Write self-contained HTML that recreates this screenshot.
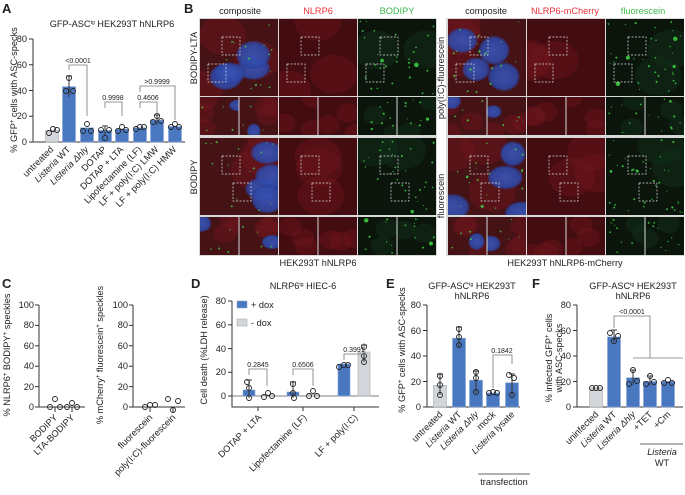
<!DOCTYPE html>
<html><head><meta charset="utf-8"><style>
html,body{margin:0;padding:0;background:#fff}
svg{display:block}
text{font-family:"Liberation Sans",Arial,sans-serif;fill:#222}
.t{font-size:9.2px}
.s{font-size:7px}
.L{font-size:13px;font-weight:bold}
.ax{stroke:#333;stroke-width:1;fill:none}
.br{stroke:#777;stroke-width:0.8;fill:none}
.bb{fill:#4a78c0;stroke:#8aa6d6;stroke-width:0.6}
.bg{fill:#d3d6da;stroke:#aaa;stroke-width:0.6}
.pt{fill:none;stroke:#222;stroke-width:0.9}
.db{fill:none;stroke:#ddd;stroke-width:0.7;stroke-dasharray:2,1.5}
</style></head><body>
<svg id="s" width="685" height="495" viewBox="0 0 685 495" xmlns="http://www.w3.org/2000/svg">
<defs>
<radialGradient id="nuc"><stop offset="0" stop-color="#3a55b8"/><stop offset="0.8" stop-color="#2f48a5"/><stop offset="1" stop-color="#2a3a90" stop-opacity="0.6"/></radialGradient>
</defs>
<g id="micro"></g>

<!-- Panel A -->
<text class="L" x="2" y="13">A</text>
<text class="t" x="112" y="27" text-anchor="middle">GFP-ASC<tspan font-size="5" dy="-3">tg</tspan><tspan dy="3"> HEK293T hNLRP6</tspan></text>
<text class="t" transform="translate(17,90) rotate(-90)" text-anchor="middle">% GFP<tspan font-size="6" dy="-3">+</tspan><tspan dy="3"> cells with ASC-specks</tspan></text>
<path class="ax" d="M33,39 V142 H185 M29,39 H33 M29,64.75 H33 M29,90.5 H33 M29,116.25 H33 M29,142 H33"/>
<g class="t" text-anchor="end"><text x="27" y="42">80</text><text x="27" y="68">60</text><text x="27" y="94">40</text><text x="27" y="119">20</text><text x="27" y="145">0</text></g>
<rect class="bg" x="45.5" y="130.4" width="13" height="11.6"/>
<rect class="bb" x="62.5" y="86.6" width="13" height="55.4"/>
<rect class="bb" x="80.5" y="127.8" width="13" height="14.2"/>
<rect class="bb" x="98.5" y="130.4" width="13" height="11.6"/>
<rect class="bb" x="115.5" y="129.1" width="13" height="12.9"/>
<rect class="bb" x="133.5" y="127.8" width="13" height="14.2"/>
<rect class="bb" x="150.5" y="120.1" width="13" height="21.9"/>
<rect class="bb" x="168.5" y="126.5" width="13" height="15.5"/>
<g class="pt">
<circle cx="49" cy="133" r="2.5"/><circle cx="53" cy="129" r="2.5"/><circle cx="57" cy="130" r="2.5"/>
<circle cx="66" cy="91" r="2.5"/><circle cx="69" cy="78" r="2.5"/><circle cx="73" cy="91" r="2.5"/>
<circle cx="83" cy="131" r="2.5"/><circle cx="87" cy="124" r="2.5"/><circle cx="91" cy="131" r="2.5"/>
<circle cx="101" cy="130" r="2.5"/><circle cx="105" cy="138" r="2.5"/><circle cx="109" cy="130" r="2.5"/>
<circle cx="118" cy="131" r="2.5"/><circle cx="122" cy="127" r="2.5"/><circle cx="126" cy="130" r="2.5"/>
<circle cx="136" cy="129" r="2.5"/><circle cx="140" cy="127" r="2.5"/><circle cx="144" cy="127" r="2.5"/>
<circle cx="153" cy="122" r="2.5"/><circle cx="157" cy="116" r="2.5"/><circle cx="161" cy="121" r="2.5"/>
<circle cx="171" cy="127" r="2.5"/><circle cx="175" cy="124" r="2.5"/><circle cx="179" cy="127" r="2.5"/>
</g>
<path class="ax" stroke-width="0.7" d="M69,76 V97 M66,76 H72 M105,126 V136 M102,126 H108 M157,115 V125 M154,115 H160"/>
<path class="br" d="M69,70 V65 H87 V116 M105,108 V102 H122 V116 M140,108 V102 H157 V114 M140,92 V86 H175 V120"/>
<g class="s" text-anchor="middle"><text x="78" y="63">&lt;0.0001</text><text x="113" y="100">0.9998</text><text x="148" y="100">0.4606</text><text x="157" y="84">&gt;0.9999</text></g>
<g class="t" text-anchor="end">
<text transform="translate(54,150) rotate(-45)">untreated</text>
<text transform="translate(71,150) rotate(-45)"><tspan font-style="italic">Listeria</tspan> WT</text>
<text transform="translate(89,150) rotate(-45)"><tspan font-style="italic">Listeria Δhly</tspan></text>
<text transform="translate(107,150) rotate(-45)">DOTAP</text>
<text transform="translate(124,150) rotate(-45)">DOTAP + LTA</text>
<text transform="translate(142,150) rotate(-45)">Lipofectamine (LF)</text>
<text transform="translate(159,150) rotate(-45)">LF + poly(I:C) LMW</text>
<text transform="translate(177,150) rotate(-45)">LF + poly(I:C) HMW</text>
</g>

<!-- Panel B labels -->
<text class="L" x="184" y="13">B</text>
<g class="t" text-anchor="middle">
<text x="240" y="14">composite</text><text x="318" y="14" style="fill:#e8303a">NLRP6</text><text x="397" y="14" style="fill:#3cba4a">BODIPY</text>
<text x="486" y="14">composite</text><text x="565" y="14" style="fill:#e8303a">NLRP6-mCherry</text><text x="643" y="14" style="fill:#3cba4a">fluorescein</text>
<text x="318" y="266">HEK293T hNLRP6</text><text x="565" y="266">HEK293T hNLRP6-mCherry</text>
<text transform="translate(197,58) rotate(-90)">BODIPY-LTA</text>
<text transform="translate(197,177) rotate(-90)">BODIPY</text>
<text transform="translate(444,78) rotate(-90)">poly(I:C)-fluorescein</text>
<text transform="translate(444,196) rotate(-90)">fluorescein</text>
</g>

<!-- Panel C -->
<text class="L" x="2" y="288">C</text>
<text class="t" transform="translate(10,355) rotate(-90)" text-anchor="middle">% NLRP6<tspan font-size="6" dy="-3">+</tspan><tspan dy="3"> BODIPY</tspan><tspan font-size="6" dy="-3">+</tspan><tspan dy="3"> speckles</tspan></text>
<path class="ax" d="M39,305 V407 H85 M35,305 H39 M35,325.4 H39 M35,345.8 H39 M35,366.2 H39 M35,386.6 H39 M35,407 H39"/>
<g class="t" text-anchor="end"><text x="34" y="308">100</text><text x="34" y="328">80</text><text x="34" y="349">60</text><text x="34" y="369">40</text><text x="34" y="390">20</text><text x="34" y="410">0</text></g>
<g class="pt"><circle cx="50" cy="407" r="2.5"/><circle cx="55" cy="399" r="2.5"/><circle cx="60" cy="407" r="2.5"/><circle cx="67" cy="407" r="2.5"/><circle cx="72" cy="403" r="2.5"/><circle cx="77" cy="407" r="2.5"/></g>
<path class="ax" stroke-width="0.7" d="M55,407 V412 M72,407 V412"/>
<g class="t" text-anchor="end"><text transform="translate(58,418) rotate(-45)">BODIPY</text><text transform="translate(75,418) rotate(-45)">LTA-BODIPY</text></g>

<text class="t" transform="translate(103,355) rotate(-90)" text-anchor="middle">% mCherry<tspan font-size="6" dy="-3">+</tspan><tspan dy="3"> fluorescein</tspan><tspan font-size="6" dy="-3">+</tspan><tspan dy="3"> speckles</tspan></text>
<path class="ax" d="M133,305 V407 H185 M129,305 H133 M129,325.4 H133 M129,345.8 H133 M129,366.2 H133 M129,386.6 H133 M129,407 H133"/>
<g class="t" text-anchor="end"><text x="128" y="308">100</text><text x="128" y="328">80</text><text x="128" y="349">60</text><text x="128" y="369">40</text><text x="128" y="390">20</text><text x="128" y="410">0</text></g>
<g class="pt"><circle cx="145" cy="407" r="2.5"/><circle cx="150" cy="405" r="2.5"/><circle cx="155" cy="405" r="2.5"/><circle cx="168" cy="399" r="2.5"/><circle cx="173" cy="410" r="2.5"/><circle cx="178" cy="401" r="2.5"/></g>
<path class="ax" stroke-width="0.7" d="M150,407 V412 M173,407 V412"/>
<g class="t" text-anchor="end"><text transform="translate(153,418) rotate(-45)">fluorescein</text><text transform="translate(176,418) rotate(-45)">poly(I:C)-fluorescein</text></g>

<!-- Panel D -->
<text class="L" x="191" y="288">D</text>
<text class="t" x="303" y="289" text-anchor="middle">NLRP6<tspan font-size="5" dy="-3">tg</tspan><tspan dy="3"> HIEC-6</tspan></text>
<text class="t" transform="translate(207,350) rotate(-90)" text-anchor="middle">Cell death (%LDH release)</text>
<path class="ax" d="M232,301 V407 H379 M228,301 H232 M228,324.9 H232 M228,348.6 H232 M228,372.3 H232 M228,396 H232"/>
<path d="M232,396 H379" stroke="#555" stroke-width="0.8"/>
<g class="t" text-anchor="end"><text x="226" y="304">80</text><text x="226" y="328">60</text><text x="226" y="352">40</text><text x="226" y="375">20</text><text x="226" y="399">0</text></g>
<rect class="bb" x="237" y="301" width="10" height="7"/><text class="t" x="251" y="308">+ dox</text>
<rect class="bg" x="237" y="319" width="10" height="7"/><text class="t" x="251" y="326">- dox</text>
<rect class="bb" x="243" y="390" width="12" height="6"/><rect class="bg" x="261" y="395" width="12" height="1"/>
<rect class="bb" x="287" y="392" width="12" height="4"/><rect class="bg" x="307" y="394" width="12" height="2"/>
<rect class="bb" x="338" y="364" width="12" height="32"/><rect class="bg" x="358" y="352" width="12" height="44"/>
<g class="pt"><circle cx="247" cy="382" r="2.5"/><circle cx="249" cy="388" r="2.5"/><circle cx="249" cy="398" r="2.5"/><circle cx="264" cy="397" r="2.5"/><circle cx="268" cy="393" r="2.5"/><circle cx="272" cy="396" r="2.5"/>
<circle cx="293" cy="384" r="2.5"/><circle cx="293" cy="393" r="2.5"/><circle cx="294" cy="398" r="2.5"/><circle cx="309" cy="396" r="2.5"/><circle cx="313" cy="391" r="2.5"/><circle cx="317" cy="396" r="2.5"/>
<circle cx="339" cy="367" r="2.5"/><circle cx="344" cy="365" r="2.5"/><circle cx="348" cy="365" r="2.5"/><circle cx="364" cy="347" r="2.5"/><circle cx="364" cy="356" r="2.5"/><circle cx="364" cy="362" r="2.5"/></g>
<path class="ax" stroke-width="0.7" d="M249,380 V398 M246,380 H252 M293,382 V398 M290,382 H296 M364,345 V362 M361,345 H367"/>
<path class="br" d="M249,375 V369 H267 V386 M293,375 V369 H313 V386 M344,360 V354 H364 V343"/>
<g class="s" text-anchor="middle"><text x="258" y="367">0.2845</text><text x="303" y="367">0.6506</text><text x="354" y="352">0.3991</text></g>
<path class="ax" stroke-width="0.7" d="M258,407 V411 M303,407 V411 M354,407 V411"/>
<g class="t" text-anchor="end"><text transform="translate(262,418) rotate(-45)">DOTAP + LTA</text><text transform="translate(307,418) rotate(-45)">Lipofectamine (LF)</text><text transform="translate(358,418) rotate(-45)">LF + poly(I:C)</text></g>

<!-- Panel E -->
<text class="L" x="386" y="288">E</text>
<text class="t" x="472" y="289" text-anchor="middle">GFP-ASC<tspan font-size="5" dy="-3">tg</tspan><tspan dy="3"> HEK293T</tspan></text>
<text class="t" x="472" y="299" text-anchor="middle">hNLRP6</text>
<text class="t" transform="translate(405,350) rotate(-90)" text-anchor="middle">% GFP<tspan font-size="6" dy="-3">+</tspan><tspan dy="3"> cells with ASC-specks</tspan></text>
<path class="ax" d="M427,305 V407 H520 M423,305 H427 M423,330.5 H427 M423,356 H427 M423,381.5 H427 M423,407 H427"/>
<g class="t" text-anchor="end"><text x="421" y="308">80</text><text x="421" y="334">60</text><text x="421" y="359">40</text><text x="421" y="385">20</text><text x="421" y="410">0</text></g>
<rect class="bg" x="433.5" y="385.3" width="13" height="21.7"/>
<rect class="bb" x="452.5" y="338.2" width="13" height="68.8"/>
<rect class="bb" x="469.5" y="380.2" width="13" height="26.8"/>
<rect class="bb" x="486.5" y="393" width="13" height="14"/>
<rect class="bb" x="505.5" y="382.8" width="13" height="24.2"/>
<path class="ax" stroke-width="0.7" d="M440,374 V395 M437,374 H443 M459,327 V347 M456,327 H462 M476,371 V393 M473,371 H479 M512,374 V396 M509,374 H515"/>
<g class="pt"><circle cx="440" cy="376" r="2.5"/><circle cx="440" cy="385" r="2.5"/><circle cx="440" cy="395" r="2.5"/>
<circle cx="459" cy="329" r="2.5"/><circle cx="459" cy="337" r="2.5"/><circle cx="459" cy="345" r="2.5"/>
<circle cx="476" cy="372" r="2.5"/><circle cx="476" cy="378" r="2.5"/><circle cx="476" cy="392" r="2.5"/>
<circle cx="489" cy="393" r="2.5"/><circle cx="493" cy="392" r="2.5"/><circle cx="497" cy="393" r="2.5"/>
<circle cx="509" cy="375" r="2.5"/><circle cx="514" cy="378" r="2.5"/><circle cx="512" cy="395" r="2.5"/></g>
<path class="br" d="M493,388 V355 H512 V364"/>
<text class="s" x="502" y="353" text-anchor="middle">0.1842</text>
<g class="t" text-anchor="end">
<text transform="translate(443,415) rotate(-45)">untreated</text>
<text transform="translate(462,415) rotate(-45)"><tspan font-style="italic">Listeria</tspan> WT</text>
<text transform="translate(479,415) rotate(-45)"><tspan font-style="italic">Listeria Δhly</tspan></text>
<text transform="translate(496,415) rotate(-45)">mock</text>
<text transform="translate(515,415) rotate(-45)"><tspan font-style="italic">Listeria</tspan> lysate</text></g>
<path d="M478,474 H530" stroke="#333" stroke-width="0.8"/>
<text class="t" x="504" y="485" text-anchor="middle">transfection</text>

<!-- Panel F -->
<text class="L" x="532" y="288">F</text>
<text class="t" x="633" y="289" text-anchor="middle">GFP-ASC<tspan font-size="5" dy="-3">tg</tspan><tspan dy="3"> HEK293T</tspan></text>
<text class="t" x="633" y="299" text-anchor="middle">hNLRP6</text>
<text class="t" transform="translate(552,358) rotate(-90)" text-anchor="middle">% infected GFP<tspan font-size="6" dy="-3">+</tspan><tspan dy="3"> cells</tspan></text>
<text class="t" transform="translate(562,358) rotate(-90)" text-anchor="middle">with ASC-specks</text>
<path class="ax" d="M577,305 V407 H683 M573,305 H577 M573,330.5 H577 M573,356 H577 M573,381.5 H577 M573,407 H577"/>
<g class="t" text-anchor="end"><text x="571" y="308">80</text><text x="571" y="334">60</text><text x="571" y="359">40</text><text x="571" y="385">20</text><text x="571" y="410">0</text></g>
<rect class="bg" x="589.5" y="387.9" width="13" height="19.1"/>
<rect class="bb" x="607.5" y="336.9" width="13" height="70.1"/>
<rect class="bb" x="626.5" y="377.7" width="13" height="29.3"/>
<rect class="bb" x="643.5" y="381.5" width="13" height="25.5"/>
<rect class="bb" x="661.5" y="381.5" width="13" height="25.5"/>
<path class="ax" stroke-width="0.7" d="M614,330 V342 M611,330 H617 M633,370 V385 M630,370 H636 M650,376 V385 M647,376 H653"/>
<g class="pt"><circle cx="592" cy="388" r="2.5"/><circle cx="596" cy="388" r="2.5"/><circle cx="600" cy="388" r="2.5"/>
<circle cx="610" cy="333" r="2.5"/><circle cx="614" cy="341" r="2.5"/><circle cx="618" cy="336" r="2.5"/>
<circle cx="629" cy="384" r="2.5"/><circle cx="633" cy="370" r="2.5"/><circle cx="637" cy="381" r="2.5"/>
<circle cx="646" cy="384" r="2.5"/><circle cx="650" cy="376" r="2.5"/><circle cx="654" cy="382" r="2.5"/>
<circle cx="664" cy="383" r="2.5"/><circle cx="668" cy="380" r="2.5"/><circle cx="672" cy="383" r="2.5"/></g>
<path class="br" d="M614,328 V316 H650 V358 M633,358 H683"/>
<text class="s" x="632" y="314" text-anchor="middle">&lt;0.0001</text>
<g class="t" text-anchor="end">
<text transform="translate(599,415) rotate(-45)">uninfected</text>
<text transform="translate(617,415) rotate(-45)"><tspan font-style="italic">Listeria</tspan> WT</text>
<text transform="translate(636,415) rotate(-45)"><tspan font-style="italic">Listeria Δhly</tspan></text>
<text transform="translate(653,415) rotate(-45)">+TET</text>
<text transform="translate(671,415) rotate(-45)">+Cm</text></g>
<path d="M640,444 H683" stroke="#333" stroke-width="0.8"/>
<text class="t" x="662" y="455" text-anchor="middle" font-style="italic">Listeria</text>
<text class="t" x="662" y="466" text-anchor="middle">WT</text>
</svg>
<script>
(function(){
var NS="http://www.w3.org/2000/svg",root=document.getElementById("micro");
var seed=7;function r(){seed=(seed*16807)%2147483647;return seed/2147483647;}
function el(p,n,a){var e=document.createElementNS(NS,n);for(var k in a)e.setAttribute(k,a[k]);p.appendChild(e);return e;}
el(root,"rect",{x:199,y:18,width:238,height:238,fill:"#d8d8d8"});
el(root,"rect",{x:446,y:18,width:238,height:238,fill:"#d8d8d8"});
function panel(x,y,w,h,type,dots,nuc){
  var g=el(root,"svg",{x:x,y:y,width:w,height:h,viewBox:"0 0 "+w+" "+h,overflow:"hidden"});
  var base={comp:"#451216",red:"#420c10",grn:"#0b150b"}[type];
  el(g,"rect",{x:0,y:0,width:w,height:h,fill:base});
  if(type!="grn"){for(var i=0;i<3;i++)el(g,"ellipse",{cx:r()*w,cy:r()*h,rx:w*0.3,ry:h*0.25,fill:"#6e161c",opacity:0.45});}
  else{for(var i=0;i<2;i++)el(g,"ellipse",{cx:r()*w,cy:r()*h,rx:w*0.3,ry:h*0.25,fill:"#12301a",opacity:0.45});}
  if(type=="comp"&&nuc){for(var i=0;i<nuc;i++)el(g,"ellipse",{cx:r()*w,cy:r()*h,rx:w*0.16+r()*5,ry:h*0.14+r()*4,fill:"url(#nuc)",opacity:0.9});}
  if(type!="red"){for(var i=0;i<dots;i++){var rr=0.5+r()*(r()<0.08?1.8:0.6);el(g,"circle",{cx:2+r()*(w-4),cy:2+r()*(h-4),r:rr,fill:"#3fd644",opacity:0.85});}}
}
var groups=[[200,30],[448,35]];
groups.forEach(function(gp){
  var X=gp[0],cols=[X,X+79,X+158];
  [[19,97],[138,217]].forEach(function(rw,ri){
    ["comp","red","grn"].forEach(function(t,ci){
      var cx=cols[ci];
      panel(cx,rw[0],78,77,t,t=="grn"?gp[1]:gp[1]/2,4);
      panel(cx,rw[1],38.5,38,t,t=="grn"?8:4,1);
      panel(cx+39.5,rw[1],38.5,38,t,t=="grn"?9:4,1);
      el(root,"rect",{x:cx+22,y:rw[0]+18,width:18,height:18,class:"db"});
      el(root,"rect",{x:cx+8+(ri?25:0),y:rw[0]+45,width:18,height:18,class:"db"});
    });
  });
});
})();
</script>
</body></html>
